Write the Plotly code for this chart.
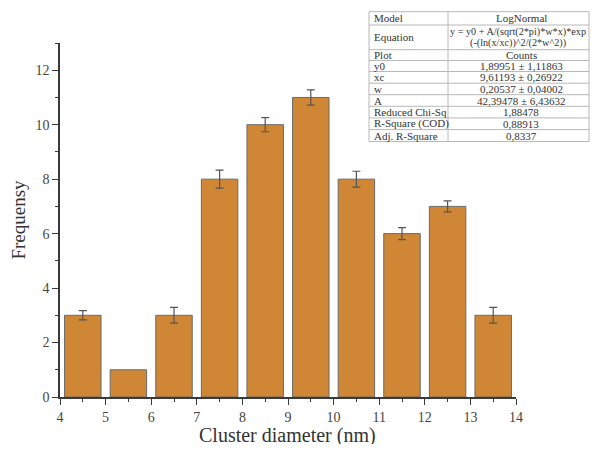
import plotly.graph_objects as go

# ---- data ----
bin_centers = [4.5, 5.5, 6.5, 7.5, 8.5, 9.5, 10.5, 11.5, 12.5, 13.5]
frequency = [3, 1, 3, 8, 10, 11, 8, 6, 7, 3]
freq_err = [0.17, None, 0.29, 0.33, 0.26, 0.28, 0.29, 0.22, 0.2, 0.29]

table_labels = ["Model", "Equation", "Plot", "y0", "xc", "w", "A",
                "Reduced Chi-Sq", "R-Square (COD)", "Adj. R-Square"]
table_values = ["LogNormal",
                "y = y0 + A/(sqrt(2*pi)*w*x)*exp\n(-(ln(x/xc))^2/(2*w^2))",
                "Counts", "1,89951 ± 1,11863", "9,61193 ± 0,26922",
                "0,20537 ± 0,04002", "42,39478 ± 6,43632", "1,88478",
                "0,88913", "0,8337"]

OFF = 8  # page body margin in the browser
W, H = 598 - 2 * OFF, 452 - 2 * OFF
ML, MT = 60 - OFF, 43 - OFF
PW, PH = 456, 354
MR, MB = W - ML - PW, H - MT - PH
FONT = "Liberation Serif, Times New Roman, serif"
AX = "#3a3a3a"


def px(x):  # screen pixel -> paper
    return (x - OFF - ML) / PW


def py(y):
    return (MT + PH - (y - OFF)) / PH


fig = go.Figure()
fig.add_trace(go.Bar(
    x=bin_centers, y=frequency, width=0.8,
    marker=dict(color="#CF8635", line=dict(color="#6b6b6b", width=1)),
    showlegend=False, hoverinfo="x+y",
))
# error bars only where an uncertainty exists
ex = [x for x, e in zip(bin_centers, freq_err) if e is not None]
ey = [v for v, e in zip(frequency, freq_err) if e is not None]
ee = [e for e in freq_err if e is not None]
fig.add_trace(go.Scatter(
    x=ex, y=ey, mode="markers", marker=dict(size=1, opacity=0),
    error_y=dict(type="data", array=ee, visible=True,
                 color="#555555", thickness=1.2, width=4),
    showlegend=False, hoverinfo="skip",
))

# ---- table (Origin-style fit results) ----
row_h = [13.3, 24.7, 10.8, 11.0, 11.7, 11.5, 11.6, 11.6, 11.7, 11.9]
tx0, tx1, tsplit, ty0 = 369, 589, 448, 11.7
tcol = "#b8b8b8"
TF = dict(family=FONT, size=11, color="#333")
EF = dict(family=FONT, size=10.2, color="#333")
shapes = []
annotations = []
y = ty0
edges = [y]
for h in row_h:
    y += h
    edges.append(y)
for e in edges:
    shapes.append(dict(type="line", xref="paper", yref="paper",
                       x0=px(tx0), x1=px(tx1), y0=py(e), y1=py(e),
                       line=dict(color=tcol, width=1)))
for xv in (tx0, tsplit, tx1):
    shapes.append(dict(type="line", xref="paper", yref="paper",
                       x0=px(xv), x1=px(xv), y0=py(edges[0]), y1=py(edges[-1]),
                       line=dict(color=tcol, width=1)))
vcenter = 521
for i, (lab, val) in enumerate(zip(table_labels, table_values)):
    yc = (edges[i] + edges[i + 1]) / 2
    annotations.append(dict(text=lab, xref="paper", yref="paper",
                            x=px(tx0 + 3), y=py(yc), xanchor="left", yanchor="middle",
                            showarrow=False, font=TF))
    lines = val.split("\n")
    n = len(lines)
    for k, ln in enumerate(lines):
        yl = yc + (k - (n - 1) / 2) * 11.3
        annotations.append(dict(text=ln, xref="paper", yref="paper",
                                x=px(vcenter - 3 if n > 1 else vcenter), y=py(yl),
                                xanchor="center", yanchor="middle", showarrow=False,
                                font=EF if n > 1 else TF))

# x-axis title placed explicitly (close to the bottom edge, as in the original)
annotations.append(dict(text="Cluster diameter (nm)", xref="paper", yref="paper",
                        x=px(287), y=py(435.5), xanchor="center", yanchor="middle",
                        showarrow=False, font=dict(family=FONT, size=20, color="#333")))

fig.update_layout(
    width=W, height=H,
    margin=dict(l=ML, r=MR, t=MT, b=MB, autoexpand=False),
    paper_bgcolor="white", plot_bgcolor="white",
    font=dict(family=FONT, color=AX),
    shapes=shapes, annotations=annotations,
    barmode="overlay",
)
fig.update_xaxes(
    range=[4, 14], tick0=4, dtick=1, showgrid=False, zeroline=False,
    showline=True, linecolor=AX, linewidth=1.5, automargin=False,
    ticks="outside", ticklen=6, tickwidth=1.3, tickcolor=AX,
    minor=dict(dtick=0.5, ticks="outside", ticklen=3, tickwidth=1.2, tickcolor=AX),
    tickfont=dict(family=FONT, size=14, color="#444"),
)
fig.update_yaxes(
    range=[0, 13], tick0=0, dtick=2, showgrid=False, zeroline=False,
    showline=True, linecolor=AX, linewidth=1.5, automargin=False,
    ticks="outside", ticklen=6, tickwidth=1.3, tickcolor=AX,
    minor=dict(dtick=1, ticks="outside", ticklen=3, tickwidth=1.2, tickcolor=AX),
    tickfont=dict(family=FONT, size=14, color="#444"),
    title=dict(text="Frequensy", font=dict(family=FONT, size=19, color="#333"),
               standoff=12),
)

fig.write_html("out.html")
